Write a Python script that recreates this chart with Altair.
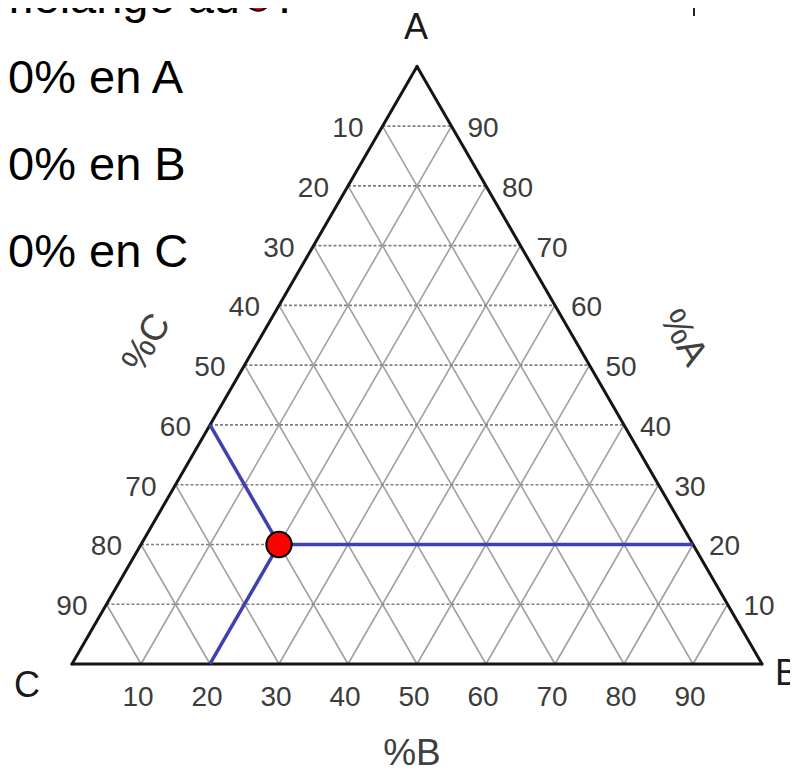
import math
import altair as alt
import pandas as pd

# ---- data ----
ticks = [10, 20, 30, 40, 50, 60, 70, 80, 90]
vertex_names = ["A", "B", "C"]
mix_A, mix_B, mix_C = 20, 20, 60          # composition of the red point (%)
side_lines = ["0% en A", "0% en B", "0% en C"]
header_text = "mélange au"
axis_titles = ["%A", "%B", "%C"]

H = math.sqrt(3) / 2


def cart(a, b):
    """ternary (A%, B%) -> cartesian, C at (0,0), B at (100,0), A at top"""
    return b + a / 2, a * H


def seg(p, q, kind):
    return {"x": p[0], "y": p[1], "x2": q[0], "y2": q[1], "kind": kind}


rows = []
for t in ticks:
    rows.append(seg(cart(t, 0), cart(t, 100 - t), "hgrid"))        # constant A
    rows.append(seg(cart(0, t), cart(100 - t, t), "dgrid"))        # constant B
    rows.append(seg(cart(0, 100 - t), cart(100 - t, 0), "dgrid"))  # constant C
rows.append(seg(cart(0, 0), cart(0, 100), "edge"))
rows.append(seg(cart(0, 100), cart(100, 0), "edge"))
rows.append(seg(cart(100, 0), cart(0, 0), "edge"))
P = cart(mix_A, mix_B)
rows.append(seg(P, cart(mix_A, 100 - mix_A), "blue"))      # constant A
rows.append(seg(P, cart(100 - mix_C, 0), "blue"))           # constant C
rows.append(seg(P, cart(0, mix_B), "blue"))                 # constant B
segs = pd.DataFrame(rows)

pt = pd.DataFrame([{"x": P[0], "y": P[1]}])

bottom_lbl = pd.DataFrame([{"x": cart(0, t)[0], "y": cart(0, t)[1], "t": str(t)} for t in ticks])
left_lbl = pd.DataFrame([{"x": cart(100 - t, 0)[0], "y": cart(100 - t, 0)[1], "t": str(t)} for t in ticks])
right_lbl = pd.DataFrame([{"x": cart(t, 100 - t)[0], "y": cart(t, 100 - t)[1], "t": str(t)} for t in ticks])
vert = pd.DataFrame([
    {"x": cart(100, 0)[0], "y": cart(100, 0)[1], "t": vertex_names[0]},
    {"x": cart(0, 100)[0], "y": cart(0, 100)[1], "t": vertex_names[1]},
    {"x": cart(0, 0)[0], "y": cart(0, 0)[1], "t": vertex_names[2]},
])

W, HGT = 782, 759
XS = alt.Scale(domain=[-9.275, 104.058], nice=False, zero=False)
YS = alt.Scale(domain=[-14.928, 95.072], nice=False, zero=False)
X = alt.X("x:Q", scale=XS, axis=None)
Y = alt.Y("y:Q", scale=YS, axis=None)

base = alt.Chart(segs)
dgrid = base.transform_filter(alt.datum.kind == "dgrid").mark_rule(
    color="#a0a0a0", strokeWidth=1.6).encode(x=X, y=Y, x2="x2:Q", y2="y2:Q")
hgrid = base.transform_filter(alt.datum.kind == "hgrid").mark_rule(
    color="#808080", strokeWidth=1.7, strokeDash=[3, 2]).encode(x=X, y=Y, x2="x2:Q", y2="y2:Q")
edges = base.transform_filter(alt.datum.kind == "edge").mark_rule(
    color="#151515", strokeWidth=3, strokeCap="round").encode(x=X, y=Y, x2="x2:Q", y2="y2:Q")
blue = base.transform_filter(alt.datum.kind == "blue").mark_rule(
    color="#4040b0", strokeWidth=3.5).encode(x=X, y=Y, x2="x2:Q", y2="y2:Q")
dot = alt.Chart(pt).mark_circle(size=640, fill="#ff0000", stroke="black",
                                strokeWidth=2, opacity=1).encode(x=X, y=Y)

tick_font = dict(font="Liberation Sans", fontSize=28, color="#3c3c3c", baseline="middle")
bl = alt.Chart(bottom_lbl).mark_text(align="center", dx=-3, dy=34, **tick_font).encode(x=X, y=Y, text="t:N")
ll = alt.Chart(left_lbl).mark_text(align="right", dx=-19, dy=3, **tick_font).encode(x=X, y=Y, text="t:N")
rl = alt.Chart(right_lbl).mark_text(align="left", dx=16, dy=3, **tick_font).encode(x=X, y=Y, text="t:N")

vfont = dict(font="Liberation Sans", fontSize=36, color="#1a1a1a", baseline="middle", align="center")
va = alt.Chart(vert).transform_filter(alt.datum.t == "A").mark_text(dx=-1, dy=-38, **vfont).encode(x=X, y=Y, text="t:N")
vb = alt.Chart(vert).transform_filter(alt.datum.t == "B").mark_text(dx=25, dy=10, **vfont).encode(x=X, y=Y, text="t:N")
vc = alt.Chart(vert).transform_filter(alt.datum.t == "C").mark_text(dx=-45, dy=22, **vfont).encode(x=X, y=Y, text="t:N")

one = pd.DataFrame([{"k": 0}])
tfont = dict(font="Liberation Sans", fontSize=37, color="#404040", baseline="middle", align="center")
tA = alt.Chart(one).mark_text(text=axis_titles[0], angle=60, **tfont).encode(x=alt.value(675), y=alt.value(330))
tB = alt.Chart(one).mark_text(text=axis_titles[1], **tfont).encode(x=alt.value(404), y=alt.value(746))
tC = alt.Chart(one).mark_text(text=axis_titles[2], angle=300, **tfont).encode(x=alt.value(139), y=alt.value(335))

sfont = dict(font="Liberation Sans", fontSize=47, color="#000000", baseline="alphabetic", align="left")
s1 = alt.Chart(one).mark_text(text=side_lines[0], **sfont).encode(x=alt.value(0), y=alt.value(85))
s2 = alt.Chart(one).mark_text(text=side_lines[1], **sfont).encode(x=alt.value(0), y=alt.value(172))
s3 = alt.Chart(one).mark_text(text=side_lines[2], **sfont).encode(x=alt.value(0), y=alt.value(259))
hdr = alt.Chart(one).mark_text(text=header_text, font="Liberation Sans", fontSize=47, color="#000000",
                               baseline="alphabetic", align="right").encode(x=alt.value(232), y=alt.value(5))
hdot = alt.Chart(one).mark_circle(size=640, fill="#ff0000", stroke="black", strokeWidth=2,
                                  opacity=1).encode(x=alt.value(250), y=alt.value(-10))
hcol = alt.Chart(one).mark_text(text=":", font="Liberation Sans", fontSize=47, color="#000000",
                                baseline="alphabetic", align="left").encode(x=alt.value(270), y=alt.value(5))
tick_mark = alt.Chart(one).mark_rule(color="#222222", strokeWidth=2).encode(
    x=alt.value(686), y=alt.value(-8), y2=alt.value(8))

chart = alt.layer(
    dgrid, hgrid, edges, blue, dot, bl, ll, rl, va, vb, vc, tA, tB, tC,
    s1, s2, s3, hdr, hdot, hcol, tick_mark
).properties(
    width=W, height=HGT, padding=0,
    autosize=alt.AutoSizeParams(type="none"),
    background="white",
).configure_view(stroke=None)

chart.save("out.html", embed_options={"renderer": "svg", "actions": False})
